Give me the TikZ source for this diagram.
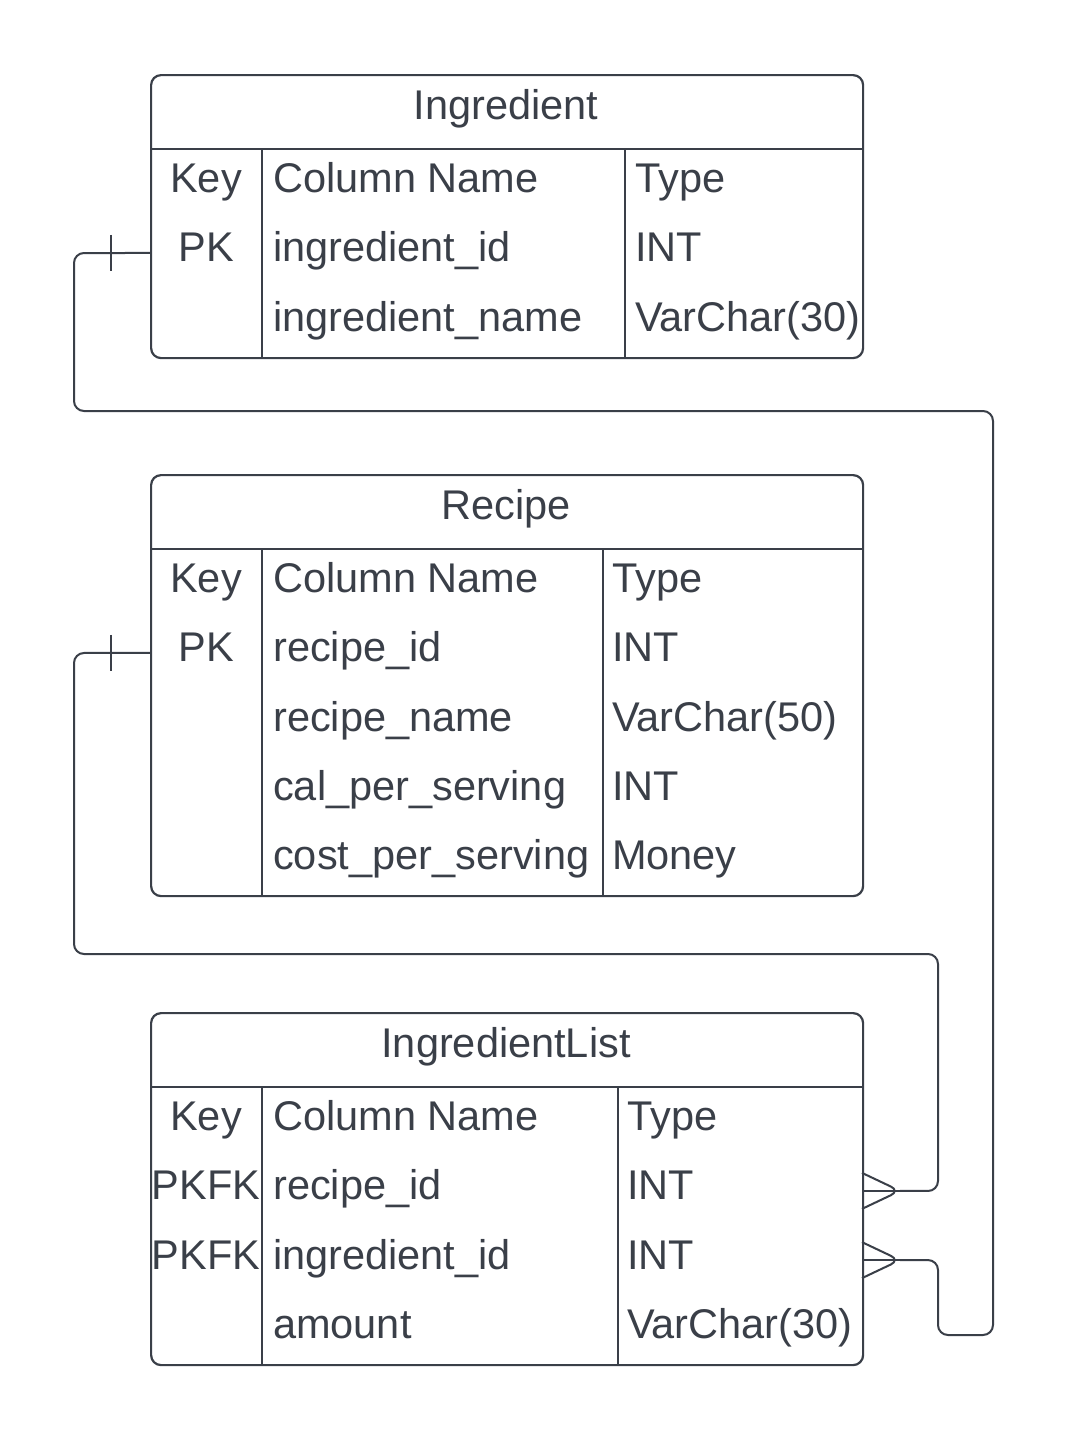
\documentclass[tikz,border=0pt]{standalone}
\usepackage{fontspec}
\setmainfont{Liberation Sans}
\usetikzlibrary{calc}
\definecolor{ink}{RGB}{58,63,72}
\tikzset{
  tablebox/.style={draw=ink, line width=2.2pt, rounded corners=10pt, minimum width=712pt, anchor=north west, inner sep=0},
  rowcell/.style={text=ink, font=\fontsize{41.5}{49}\selectfont, inner sep=0, anchor=base west},
  keycell/.style={rowcell, anchor=base},
  sepline/.style={draw=ink, line width=1.5pt},
  relline/.style={draw=ink, line width=2pt, rounded corners=10pt},
}

\begin{document}
\begin{tikzpicture}[x=1pt, y=-1pt]
  \fill[white] (0,0) rectangle (1071,1440);
  \useasboundingbox (0,0) rectangle (1071,1440);

  % Ingredient
  \node[tablebox, minimum height=283pt] (ingredient) at (150,74) {};
  \node[keycell] (ingtitle) at (506,119) {Ingredient};
  \draw[sepline] (150,149) -- (862,149);
  \draw[sepline] (262,149) -- (262,357);
  \draw[sepline] (625,149) -- (625,357);
  \foreach \k/\c/\t [count=\i] in {Key/Column Name/Type, PK/ingredient\_id/INT, /ingredient\_name/VarChar(30)} {
    \pgfmathsetmacro\y{149+69.33*(\i-0.5)}
    \coordinate (ingrow\i) at (150,\y);
    \node[keycell] (ingkey\i) at (206,\y+9) {\k};
    \node[rowcell] (ingcol\i) at (273,\y+9) {\c};
    \node[rowcell] (ingtype\i) at (635,\y+9) {\t};
  }

  % Recipe
  \node[tablebox, minimum height=421pt] (recipe) at (150,474) {};
  \node[keycell] (rcptitle) at (506,519) {Recipe};
  \draw[sepline] (150,549) -- (862,549);
  \draw[sepline] (262,549) -- (262,895);
  \draw[sepline] (603,549) -- (603,895);
  \foreach \k/\c/\t [count=\i] in {Key/Column Name/Type, PK/recipe\_id/INT, /recipe\_name/VarChar(50),
      /cal\_per\_serving/INT, /cost\_per\_serving/Money} {
    \pgfmathsetmacro\y{549+69.2*(\i-0.5)}
    \coordinate (rcprow\i) at (150,\y);
    \node[keycell] (rcpkey\i) at (206,\y+9) {\k};
    \node[rowcell] (rcpcol\i) at (273,\y+9) {\c};
    \node[rowcell] (rcptype\i) at (612,\y+9) {\t};
  }

  % IngredientList
  \node[tablebox, minimum height=352pt] (list) at (150,1012) {};
  \node[keycell] (listtitle) at (506,1057) {IngredientList};
  \draw[sepline] (150,1087) -- (862,1087);
  \draw[sepline] (262,1087) -- (262,1364);
  \draw[sepline] (618,1087) -- (618,1364);
  \foreach \k/\c/\t [count=\i] in {Key/Column Name/Type, PKFK/recipe\_id/INT, PKFK/ingredient\_id/INT,
      /amount/VarChar(30)} {
    \pgfmathsetmacro\y{1087+69.25*(\i-0.5)}
    \coordinate (listrow\i) at (862,\y);
    \node[keycell] (listkey\i) at (206,\y+9) {\k};
    \node[rowcell] (listcol\i) at (273,\y+9) {\c};
    \node[rowcell] (listtype\i) at (627,\y+9) {\t};
  }

  % relations
  \coordinate (ingfoot) at ($(listrow3)+(38,0)$);
  \coordinate (rcpfoot) at ($(listrow2)+(38,0)$);

  \draw[relline] (ingredient.west |- ingrow2) -- (74,253) -- (74,411) -- (993,411)
    -- (993,1335) -- (938,1335) -- (938,1260) -- (ingfoot);
  \draw[relline] ($(ingrow2)+(-39,-18)$) -- ++(0,36);
  \draw[relline] (listrow3) -- (ingfoot);
  \draw[relline] ($(listrow3)+(0,-18)$) -- (ingfoot) -- ($(listrow3)+(0,18)$);

  \draw[relline] (recipe.west |- rcprow2) -- (74,653) -- (74,954) -- (938,954)
    -- (938,1191) -- (rcpfoot);
  \draw[relline] ($(rcprow2)+(-39,-18)$) -- ++(0,36);
  \draw[relline] (listrow2) -- (rcpfoot);
  \draw[relline] ($(listrow2)+(0,-18)$) -- (rcpfoot) -- ($(listrow2)+(0,18)$);
\end{tikzpicture}
\end{document}
